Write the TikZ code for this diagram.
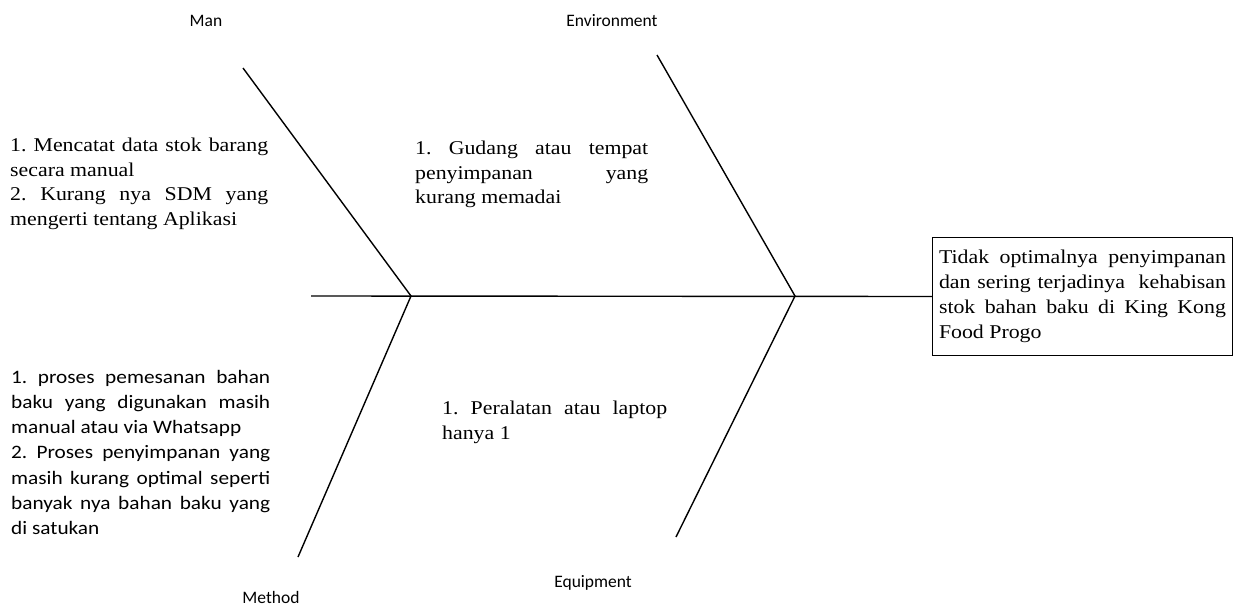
\documentclass[tikz,border=0pt]{standalone}
\usepackage{fontspec}
\setmainfont[FakeStretch=1.12]{Liberation Serif}
\newfontfamily\calibri[FakeStretch=1.12]{Carlito}
\newfontfamily\calibrilabel{Carlito}
\hbadness=10000
\hfuzz=20pt
\frenchspacing
\tikzset{
  bone/.style={line width=1.4pt},
  cause/.style={anchor=north west, inner sep=0pt, align=justify,
    font=\frenchspacing\fontsize{19.5}{24.5}\selectfont},
  causesans/.style={anchor=north west, inner sep=0pt, align=justify,
    font=\frenchspacing\calibri\fontsize{19}{25.2}\selectfont},
  category/.style={inner sep=0pt, font=\calibrilabel\fontsize{17.5}{20}\selectfont},
  effectbox/.style={draw, line width=1pt, anchor=north west, text width=287pt,
    inner xsep=6.5pt, inner ysep=0pt, minimum height=118pt, align=justify,
    font=\frenchspacing\fontsize{19.5}{25}\selectfont}
}
\begin{document}
\begin{tikzpicture}[x=1pt, y=-1pt]
\useasboundingbox (0,0) rectangle (1237,615);

% effect box and spine
\node[effectbox] (effect) at (932,237)
  {Tidak optimalnya penyimpanan\linebreak dan sering terjadinya\ \ kehabisan\linebreak stok bahan baku di King Kong\linebreak Food Progo};
\coordinate (tail) at (311,296);
\coordinate (j1) at (411,296);
\coordinate (j2) at (795,296);
\draw[bone] (tail) -- (effect.west);

% bones
\coordinate (man) at (243,68);
\coordinate (env) at (657,55);
\coordinate (met) at (298,557);
\coordinate (equ) at (676,537);
\draw[bone] (man) -- (j1) -- (met);
\draw[bone] (env) -- (j2) -- (equ);

% category labels
\node[category] (lman) at (206,21) {Man};
\node[category] (lenv) at (612,21) {Environment};
\node[category] (lequ) at (593,583) {Equipment};
\node[category] (lmet) at (271,597) {Method};

% causes
\node[cause, text width=258pt] (cman) at (10,138)
  {1. Mencatat data stok barang\linebreak secara manual\par
   2. Kurang nya SDM yang\linebreak mengerti tentang Aplikasi};
\node[cause, text width=233pt] (cenv) at (415,141)
  {1. Gudang atau tempat\linebreak penyimpanan yang\linebreak kurang memadai};
\node[cause, text width=225pt] (cequ) at (442,401)
  {1. Peralatan atau laptop\linebreak hanya 1};
\node[causesans, text width=259pt] (cmet) at (11,370)
  {1. proses pemesanan bahan\linebreak baku yang digunakan masih\linebreak manual atau via Whatsapp\par
   2. Proses penyimpanan yang\linebreak masih kurang optimal seperti\linebreak banyak nya bahan baku yang\linebreak di satukan};
\end{tikzpicture}
\end{document}
